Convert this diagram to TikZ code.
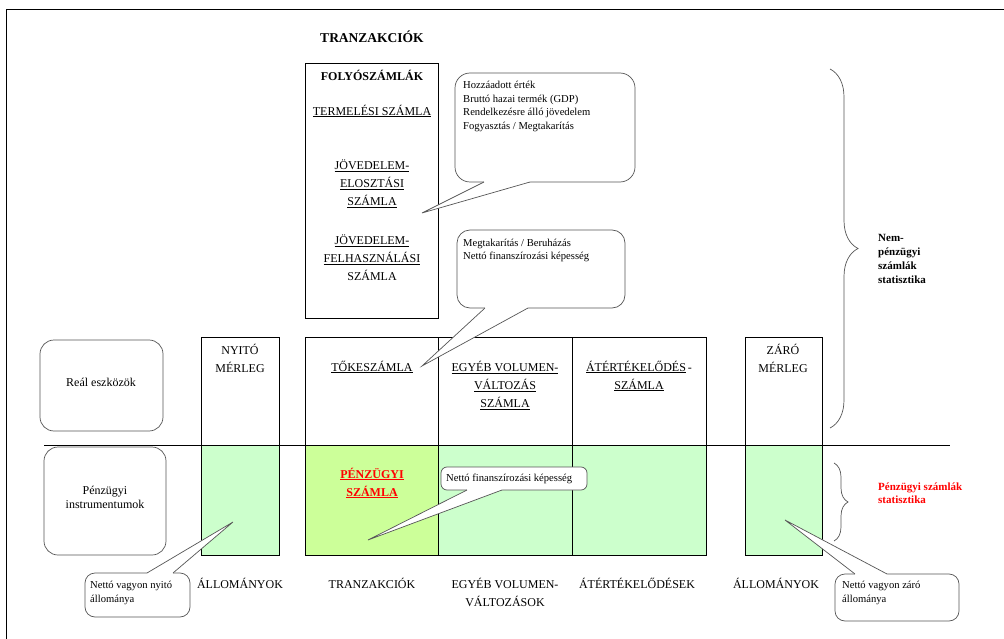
\documentclass[tikz,border=0pt]{standalone}
\usepackage{fontspec}
\setmainfont{Liberation Serif}
\usetikzlibrary{decorations.pathreplacing}
\definecolor{lgreen}{HTML}{CCFFCC}
\definecolor{lime}{HTML}{CCFF99}
\definecolor{cgray}{HTML}{555555}
\tikzset{
  box/.style={draw=black, line width=0.8pt, inner sep=0pt, outer sep=0pt, anchor=north west},
  lbl/.style={font=\fontsize{12}{18}\selectfont, align=center, inner sep=0pt},
  rbox/.style={draw=cgray, line width=0.7pt, rounded corners=14pt, inner sep=0pt, outer sep=0pt, anchor=north west},
  callbox/.style={draw=cgray, line width=0.7pt, fill=white, inner sep=0pt, outer sep=0pt, anchor=north west},
  ctext/.style={font=\fontsize{10.6}{13.6}\selectfont, align=left, inner sep=0pt, anchor=north west},
  tail/.style={draw=cgray, line width=0.7pt},
  bracestyle/.style={draw=cgray, line width=0.7pt, decorate},
}
\newcommand{\ul}[1]{\underline{#1}}
\begin{document}
\begin{tikzpicture}[x=1pt,y=-1pt]
\useasboundingbox (0,0) rectangle (1004,639);
% outer frame
\coordinate (fbl) at (6,639);
\coordinate (ftl) at (6,9);
\coordinate (ftr) at (1004,9);
\draw[line width=0.9pt] (fbl) -- (ftl) -- (ftr);

% title
\node[lbl, font=\fontsize{13.5}{16}\selectfont\bfseries] (title) at (372,37) {TRANZAKCIÓK};

% current accounts box
\node[box, minimum width=133pt, minimum height=255pt] (folyo) at (305,63) {};
\node[lbl, font=\fontsize{12}{18}\selectfont\bfseries] (folyot) at (372,75) {FOLYÓSZÁMLÁK};
\node[lbl] (term) at (372,111) {\ul{TERMELÉSI SZÁMLA}};
\node[lbl] (elo) at (372,184) {\ul{JÖVEDELEM-}\\\ul{ELOSZTÁSI}\\\ul{SZÁMLA}};
\node[lbl] (felh) at (372,258) {\ul{JÖVEDELEM-}\\\ul{FELHASZNÁLÁSI}\\SZÁMLA};

% lower (financial) boxes
\node[box, fill=lgreen, minimum width=78pt, minimum height=110pt] (nyitol) at (201,445) {};
\node[box, fill=lime, minimum width=133pt, minimum height=110pt] (penzl) at (305,445) {};
\node[box, fill=lgreen, minimum width=134pt, minimum height=110pt] (egyebl) at (438,445) {};
\node[box, fill=lgreen, minimum width=134pt, minimum height=110pt] (atertl) at (572,445) {};
\node[box, fill=lgreen, minimum width=77pt, minimum height=110pt] (zarol) at (745,445) {};

% upper (real) boxes
\node[box, minimum width=78pt, minimum height=108pt] (nyito) at (201,337) {};
\node[box, minimum width=133pt, minimum height=108pt] (toke) at (305,337) {};
\node[box, minimum width=134pt, minimum height=108pt] (egyeb) at (438,337) {};
\node[box, minimum width=134pt, minimum height=108pt] (atert) at (572,337) {};
\node[box, minimum width=77pt, minimum height=108pt] (zaro) at (745,337) {};

% horizontal separator
\coordinate (hl) at (44,445);
\coordinate (hr) at (950,445);
\draw[line width=0.8pt] (hl) -- (hr);

% texts in upper boxes
\node[lbl] (nyitot) at (240,358) {NYITÓ\\MÉRLEG};
\node[lbl] (toket) at (372,367) {\ul{TŐKESZÁMLA}};
\node[lbl] (egyebt) at (505,385.5) {\ul{EGYÉB VOLUMEN-}\\\ul{VÁLTOZÁS}\\\ul{SZÁMLA}};
\node[lbl] (atertt) at (639,376) {\ul{ÁTÉRTÉKELŐDÉS}\,-\\\ul{SZÁMLA}};
\node[lbl] (zarot) at (783,358) {ZÁRÓ\\MÉRLEG};
\node[lbl, text=red, font=\fontsize{12}{18}\selectfont\bfseries] (penzt) at (372,483) {\ul{PÉNZÜGYI}\\\ul{SZÁMLA}};

% left rounded boxes
\node[rbox, minimum width=123pt, minimum height=91pt] (real) at (40,340) {};
\node[lbl] (realt) at (101,382) {Reál eszközök};
\node[rbox, minimum width=122pt, minimum height=108pt] (penzi) at (44,447) {};
\node[lbl, font=\fontsize{12}{14}\selectfont] (penzit) at (105,497) {Pénzügyi\\instrumentumok};

% bottom labels
\node[lbl] (b1) at (240,583) {ÁLLOMÁNYOK};
\node[lbl] (b2) at (372,583) {TRANZAKCIÓK};
\node[lbl] (b3) at (505,592) {EGYÉB VOLUMEN-\\VÁLTOZÁSOK};
\node[lbl] (b4) at (637,583) {ÁTÉRTÉKELŐDÉSEK};
\node[lbl] (b5) at (776,583) {ÁLLOMÁNYOK};

% callout 1
\node[callbox, rounded corners=15pt, minimum width=180pt, minimum height=109pt] (c1) at (455,73) {};
\coordinate (t1) at (422,213);
\fill[white] (484,182) -- (t1) -- (530,182) -- (530,179) -- (484,179) -- cycle;
\draw[tail] (484,182) -- (t1) -- (530,182);
\node[ctext] (c1t) at (463,81) {Hozzáadott érték\\Bruttó hazai termék (GDP)\\Rendelkezésre álló jövedelem\\Fogyasztás / Megtakarítás};

% callout 2
\node[callbox, rounded corners=13pt, minimum width=168pt, minimum height=78pt] (c2) at (457,230) {};
\coordinate (t2) at (422,366);
\fill[white] (485,308) -- (t2) -- (528,308) -- (528,305) -- (485,305) -- cycle;
\draw[tail] (485,308) -- (t2) -- (528,308);
\node[ctext] (c2t) at (463,238.5) {Megtakarítás / Beruházás\\Nettó finanszírozási képesség};

% callout 3 (financial account)
\node[callbox, rounded corners=6pt, minimum width=146pt, minimum height=23pt] (c3) at (441,467) {};
\coordinate (t3) at (368,540);
\fill[white] (467,490) -- (t3) -- (502,490) -- (502,487) -- (467,487) -- cycle;
\draw[tail] (467,490) -- (t3) -- (502,490);
\node[ctext, anchor=west] (c3t) at (446,478.5) {Nettó finanszírozási képesség};

% callout 4 (opening)
\node[callbox, rounded corners=10pt, minimum width=105pt, minimum height=44pt] (c4) at (85,573) {};
\coordinate (t4) at (233,522);
\fill[white] (147,573) -- (t4) -- (173,573) -- (173,576) -- (147,576) -- cycle;
\draw[tail] (147,573) -- (t4) -- (173,573);
\node[ctext] (c4t) at (90,581) {Nettó vagyon nyitó\\állománya};

% callout 5 (closing)
\node[callbox, rounded corners=10pt, minimum width=124pt, minimum height=47pt] (c5) at (835,574) {};
\coordinate (t5) at (785,520);
\fill[white] (855,574) -- (t5) -- (887,574) -- (887,577) -- (855,577) -- cycle;
\draw[tail] (855,574) -- (t5) -- (887,574);
\node[ctext] (c5t) at (842,581) {Nettó vagyon záró\\állománya};

% braces
\coordinate (br1a) at (830,69);
\coordinate (br1b) at (830,428);
\draw[bracestyle, decoration={brace, amplitude=28pt}] (br1a) -- (br1b);
\coordinate (br2a) at (834,463);
\coordinate (br2b) at (834,541);
\draw[bracestyle, decoration={brace, amplitude=14pt}] (br2a) -- (br2b);

\node[ctext, font=\fontsize{11}{14.2}\selectfont\bfseries, anchor=west] (nemp) at (878,259) {Nem-\\pénzügyi\\számlák\\statisztika};
\node[ctext, font=\fontsize{11}{13}\selectfont\bfseries, anchor=west, text=red] (penzs) at (878,493) {Pénzügyi számlák\\statisztika};
\end{tikzpicture}
\end{document}
